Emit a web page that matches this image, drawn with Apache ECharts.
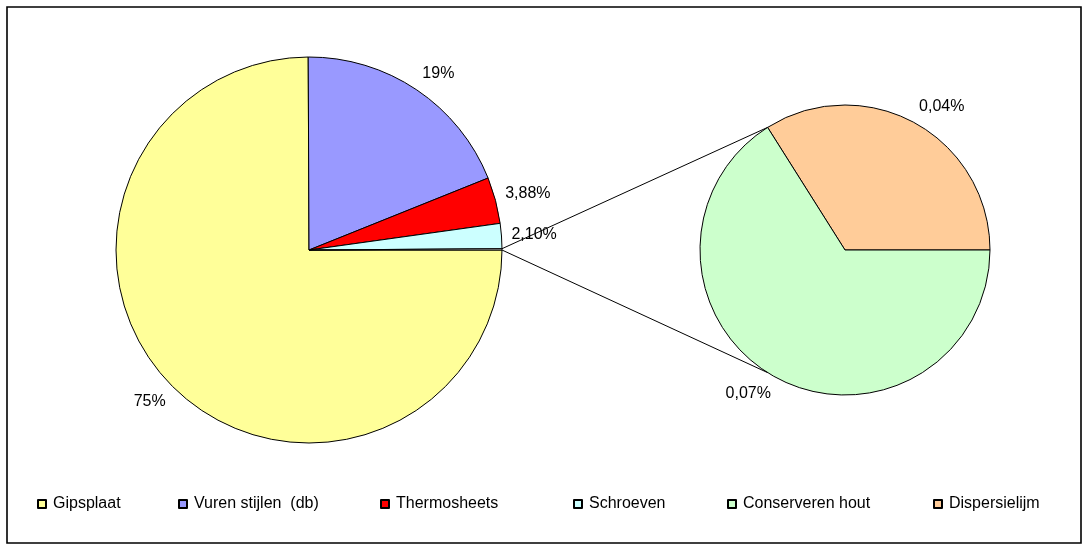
<!DOCTYPE html>
<html>
<head>
<meta charset="utf-8">
<script src="https://cdn.jsdelivr.net/npm/echarts@6/dist/echarts.min.js"></script>
<style>
  html, body { margin: 0; padding: 0; background: #fff; }
  #chart { width: 1089px; height: 551px; }
</style>
</head>
<body>
<div id="chart"></div>
<script>
// Share of each material (%), main pie
const mainNames = ['Gipsplaat', 'Vuren stijlen  (db)', 'Thermosheets', 'Schroeven'];
const mainValues = [75, 19, 3.88, 2.10];
const mainDecimals = [0, 0, 2, 2];

// Small items, split out in the second pie
const detailNames = ['Dispersielijm', 'Conserveren hout'];
const detailValues = [0.036, 0.070];
const detailDecimals = [2, 2];

const otherName = 'Overig';
const legendOrder = ['Gipsplaat', 'Vuren stijlen  (db)', 'Thermosheets', 'Schroeven', 'Conserveren hout', 'Dispersielijm'];

const colors = {
  'Gipsplaat': '#FFFF99',
  'Vuren stijlen  (db)': '#9999FF',
  'Thermosheets': '#FF0000',
  'Schroeven': '#CCFFFF',
  'Conserveren hout': '#CCFFCC',
  'Dispersielijm': '#FFCC99',
  'Overig': '#FFFFFF'
};

const FONT = "'Liberation Sans', Arial, sans-serif";
const decimalsByName = {};
mainNames.forEach((n, i) => { decimalsByName[n] = mainDecimals[i]; });
detailNames.forEach((n, i) => { decimalsByName[n] = detailDecimals[i]; });

function pct(value, dec) {
  return value.toFixed(dec).replace('.', ',') + '%';
}

const chart = echarts.init(document.getElementById('chart'), null, { renderer: 'canvas' });

// Anchor each label at a point just outside its slice (mid angle) and
// attach the label box by the side/corner that faces the pie
const GAP = 10;
const clamp = v => Math.max(-1, Math.min(1, v));
function placeLabel(params) {
  if (!params.labelRect) return {};
  const data = chart.getModel().getSeriesByIndex(params.seriesIndex).getData();
  const l = data.getItemLayout(params.dataIndex);
  const mid = (l.startAngle + l.endAngle) / 2;
  const dx = Math.cos(mid), dy = Math.sin(mid);
  const hw = params.labelRect.width / 2, hh = params.labelRect.height / 2;
  const px = l.cx + (l.r + GAP) * dx;
  const py = l.cy + (l.r + GAP) * dy;
  return {
    x: px + hw * clamp(2 * dx),
    y: py + hh * clamp(2 * dy),
    align: 'center',
    verticalAlign: 'middle'
  };
}

const sliceStyle = { borderColor: '#000', borderWidth: 1 };
const labelStyle = {
  show: true,
  position: 'outside',
  color: '#000',
  fontFamily: FONT,
  fontSize: 16,
  formatter: p => pct(p.value, decimalsByName[p.name])
};

const otherValue = detailValues.reduce((a, b) => a + b, 0);
const mainData = mainNames.map((n, i) => ({
  name: n, value: mainValues[i], itemStyle: { color: colors[n] }
}));
mainData.push({ name: otherName, value: otherValue, itemStyle: { color: colors[otherName] }, label: { show: false } });
const otherIndex = mainData.length - 1;

const detailData = detailNames.map((n, i) => ({
  name: n, value: detailValues[i], itemStyle: { color: colors[n] }
}));

const legendLeft = [37, 178, 380, 573, 727, 933];

chart.setOption({
  animation: false,
  backgroundColor: '#fff',
  tooltip: { show: false },
  legend: legendOrder.map((n, i) => ({
    data: [n],
    left: legendLeft[i],
    top: 496,
    padding: 0,
    icon: 'rect',
    itemWidth: 8,
    itemHeight: 8,
    selectedMode: false,
    textStyle: { color: '#000', fontFamily: FONT, fontSize: 16, padding: [0, 0, 0, 2] }
  })),
  series: [
    {
      type: 'pie',
      center: [309, 250],
      radius: 193,
      startAngle: 0,
      clockwise: true,
      avoidLabelOverlap: false,
      itemStyle: sliceStyle,
      label: labelStyle,
      labelLine: { show: false },
      labelLayout: placeLabel,
      emphasis: { disabled: true },
      data: mainData
    },
    {
      type: 'pie',
      center: [845, 250],
      radius: 145,
      startAngle: 0,
      clockwise: false,
      avoidLabelOverlap: false,
      itemStyle: sliceStyle,
      label: labelStyle,
      labelLine: { show: false },
      labelLayout: placeLabel,
      emphasis: { disabled: true },
      data: detailData
    }
  ]
});

// Connector lines from the grouped slice to the second pie, plus the outer frame
function drawExtras() {
  const model = chart.getModel();
  const o = model.getSeriesByIndex(0).getData().getItemLayout(otherIndex);
  const d = model.getSeriesByIndex(1).getData().getItemLayout(0);
  const at = (l, a) => [l.cx + l.r * Math.cos(a), l.cy + l.r * Math.sin(a)];
  const mainTop = at(o, Math.min(o.startAngle, o.endAngle));
  const mainBottom = at(o, Math.max(o.startAngle, o.endAngle));
  const a = d.endAngle;
  const secTop = [d.cx + d.r * Math.cos(a), d.cy - d.r * Math.abs(Math.sin(a))];
  const secBottom = [d.cx + d.r * Math.cos(a), d.cy + d.r * Math.abs(Math.sin(a))];
  chart.setOption({
    graphic: [
      { type: 'rect', silent: true, shape: { x: 7, y: 7, width: 1074, height: 536 },
        style: { fill: null, stroke: '#000', lineWidth: 1.6 } },
      { type: 'line', silent: true, z: 10,
        shape: { x1: mainTop[0], y1: mainTop[1], x2: secTop[0], y2: secTop[1] },
        style: { stroke: '#000', lineWidth: 1 } },
      { type: 'line', silent: true, z: 10,
        shape: { x1: mainBottom[0], y1: mainBottom[1], x2: secBottom[0], y2: secBottom[1] },
        style: { stroke: '#000', lineWidth: 1 } }
    ]
  });
}
drawExtras();
</script>
</body>
</html>
